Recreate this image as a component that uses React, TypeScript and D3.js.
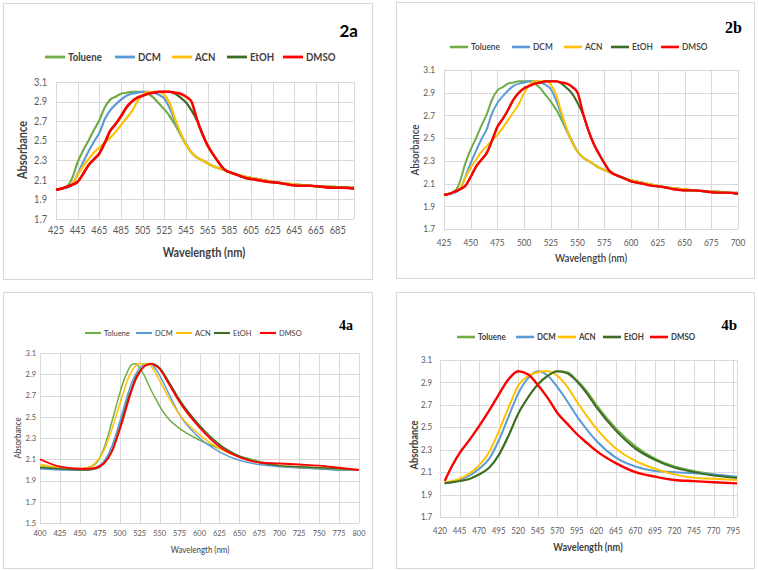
import React from 'react';
import * as d3 from 'd3';

const solvents = ['Toluene', 'DCM', 'ACN', 'EtOH', 'DMSO'];
const colors = ['#70AD47', '#5B9BD5', '#FFC000', '#3E6B26', '#FF0000'];

// dye 2 spectra (2a and 2b show the same data)
const wl2 = [425, 430, 435, 440, 445, 450, 455, 460, 465, 470, 475, 480, 485, 490, 495, 500, 505, 510, 515, 520,
  525, 530, 535, 540, 545, 550, 555, 560, 565, 570, 575, 580, 590, 600, 610, 620, 630, 640, 650, 660, 670, 680, 690, 700];
const tol2 = [2.00, 2.01, 2.03, 2.12, 2.28, 2.40, 2.50, 2.61, 2.71, 2.84, 2.92, 2.95, 2.98, 2.99, 3.00, 3.00, 3.00, 2.98, 2.94, 2.88,
  2.82, 2.75, 2.66, 2.56, 2.46, 2.38, 2.33, 2.30, 2.27, 2.24, 2.22, 2.20, 2.16, 2.13, 2.11, 2.09, 2.07, 2.06, 2.05, 2.04, 2.03, 2.03, 2.02, 2.02];
const dcm2 = [2.00, 2.01, 2.02, 2.05, 2.16, 2.28, 2.39, 2.49, 2.58, 2.72, 2.81, 2.87, 2.92, 2.96, 2.98, 2.99, 3.00, 3.00, 2.99, 2.97,
  2.93, 2.83, 2.70, 2.57, 2.47, 2.38, 2.33, 2.30, 2.27, 2.24, 2.22, 2.20, 2.16, 2.13, 2.11, 2.09, 2.07, 2.06, 2.05, 2.04, 2.03, 2.03, 2.02, 2.02];
const acn2 = [2.00, 2.01, 2.03, 2.06, 2.15, 2.24, 2.31, 2.38, 2.43, 2.48, 2.53, 2.59, 2.66, 2.73, 2.80, 2.90, 2.97, 3.00, 3.00, 3.00,
  2.97, 2.88, 2.72, 2.58, 2.46, 2.38, 2.33, 2.30, 2.27, 2.24, 2.22, 2.20, 2.16, 2.13, 2.11, 2.09, 2.07, 2.06, 2.05, 2.04, 2.03, 2.03, 2.02, 2.02];
const etoh2 = [2.00, 2.01, 2.03, 2.05, 2.08, 2.16, 2.25, 2.31, 2.37, 2.48, 2.60, 2.67, 2.75, 2.84, 2.90, 2.94, 2.96, 2.98, 2.99, 3.00,
  3.00, 3.00, 2.98, 2.94, 2.89, 2.81, 2.71, 2.57, 2.45, 2.36, 2.28, 2.21, 2.16, 2.12, 2.10, 2.08, 2.07, 2.05, 2.04, 2.04, 2.03, 2.02, 2.02, 2.01];
const dmso2 = [2.00, 2.01, 2.03, 2.05, 2.08, 2.16, 2.25, 2.31, 2.37, 2.48, 2.60, 2.67, 2.75, 2.84, 2.90, 2.94, 2.96, 2.98, 2.99, 3.00,
  3.00, 3.00, 2.99, 2.98, 2.95, 2.90, 2.72, 2.57, 2.45, 2.36, 2.28, 2.21, 2.16, 2.12, 2.10, 2.08, 2.07, 2.05, 2.04, 2.04, 2.03, 2.02, 2.02, 2.01];

// dye 4, 4a
const wl4a = [400, 425, 450, 460, 470, 480, 490, 500, 505, 510, 515, 520, 525, 530, 535, 540, 545, 550, 560, 575,
  600, 625, 650, 675, 700, 725, 750, 775, 800];
const tol4a = [2.03, 2.02, 2.01, 2.02, 2.06, 2.20, 2.45, 2.72, 2.84, 2.93, 2.99, 3.00, 2.96, 2.90, 2.82, 2.74, 2.67, 2.60, 2.49, 2.39,
  2.28, 2.20, 2.13, 2.08, 2.04, 2.02, 2.01, 2.00, 2.00];
const dcm4a = [2.01, 2.00, 2.00, 2.00, 2.02, 2.08, 2.22, 2.45, 2.58, 2.71, 2.82, 2.90, 2.96, 2.99, 3.00, 2.99, 2.95, 2.89, 2.74, 2.52,
  2.30, 2.17, 2.09, 2.05, 2.03, 2.02, 2.01, 2.00, 2.00];
const acn4a = [2.05, 2.02, 2.01, 2.02, 2.07, 2.18, 2.38, 2.62, 2.74, 2.85, 2.93, 2.98, 3.00, 3.00, 3.00, 2.97, 2.91, 2.84, 2.70, 2.52,
  2.33, 2.20, 2.12, 2.07, 2.04, 2.03, 2.02, 2.01, 2.00];
const etoh4a = [2.02, 2.01, 2.00, 2.00, 2.01, 2.06, 2.18, 2.40, 2.53, 2.66, 2.77, 2.87, 2.93, 2.97, 2.99, 3.00, 2.99, 2.96, 2.85, 2.66,
  2.42, 2.24, 2.13, 2.07, 2.04, 2.03, 2.02, 2.01, 2.00];
const dmso4a = [2.10, 2.03, 2.01, 2.01, 2.02, 2.06, 2.17, 2.38, 2.50, 2.63, 2.75, 2.85, 2.92, 2.97, 2.99, 3.00, 2.98, 2.95, 2.83, 2.64,
  2.40, 2.22, 2.12, 2.07, 2.06, 2.05, 2.04, 2.02, 2.00];

// dye 4, 4b
const wl4b = [426, 435, 445, 458, 470, 483, 495, 508, 520, 533, 545, 558, 570, 583, 595, 608, 620, 645, 670, 695,
  720, 745, 770, 800];
const tol4b = [2.00, 2.01, 2.02, 2.04, 2.08, 2.14, 2.25, 2.43, 2.62, 2.77, 2.88, 2.96, 3.00, 2.99, 2.92, 2.82, 2.70, 2.49, 2.33, 2.22,
  2.15, 2.11, 2.08, 2.05];
const dcm4b = [2.00, 2.01, 2.03, 2.07, 2.13, 2.22, 2.38, 2.60, 2.80, 2.94, 3.00, 2.96, 2.86, 2.73, 2.60, 2.48, 2.38, 2.23, 2.15, 2.11,
  2.10, 2.09, 2.08, 2.06];
const acn4b = [2.01, 2.02, 2.04, 2.09, 2.16, 2.28, 2.46, 2.68, 2.87, 2.96, 2.99, 3.00, 2.96, 2.86, 2.73, 2.60, 2.49, 2.31, 2.20, 2.13,
  2.08, 2.05, 2.04, 2.03];
const etoh4b = [2.00, 2.01, 2.02, 2.04, 2.08, 2.14, 2.25, 2.43, 2.62, 2.77, 2.88, 2.96, 3.00, 2.98, 2.91, 2.80, 2.68, 2.47, 2.31, 2.21,
  2.14, 2.10, 2.07, 2.05];
const dmso4b = [2.02, 2.15, 2.27, 2.39, 2.51, 2.65, 2.79, 2.93, 3.00, 2.97, 2.88, 2.76, 2.63, 2.53, 2.44, 2.36, 2.29, 2.18, 2.10, 2.06,
  2.03, 2.02, 2.01, 2.00];

const panels = [
  {
    name: '2a', wl: wl2, series: [tol2, dcm2, acn2, etoh2, dmso2],
    box: [3, 3, 372, 279], xr: [56, 354], yr: [82, 219], xd: [425, 700], yd: [3.1, 1.7],
    xticks: d3.range(425, 700, 20), yticks: d3.range(17, 32, 2).map(v => v / 10),
    tickSize: 10.5, xTickY: 234, yTickX: 47,
    legY: 57, legX: [45, 115, 172, 227, 283], legLen: 20, legSize: 11, legWeight: 700,
    titleSize: 12.5, titleWeight: 700, yTitle: [23, 150], xTitle: [204, 257],
    tag: [358, 37], tagFont: 'Lato, sans-serif', tagSize: 17, lw: 2.2
  },
  {
    name: '2b', wl: wl2, series: [tol2, dcm2, acn2, etoh2, dmso2],
    box: [396, 2, 754, 278], xr: [444, 738], yr: [70, 229], xd: [425, 700], yd: [3.1, 1.7],
    xticks: d3.range(425, 701, 25), yticks: d3.range(17, 32, 2).map(v => v / 10),
    tickSize: 9.5, xTickY: 246, yTickX: 435,
    legY: 47, legX: [450, 512, 564, 611, 661], legLen: 18, legSize: 9.5, legWeight: 600,
    titleSize: 11, titleWeight: 600, yTitle: [415, 150], xTitle: [591, 262],
    tag: [742, 33], tagFont: '"Liberation Serif", serif', tagSize: 16, lw: 2
  },
  {
    name: '4a', wl: wl4a, series: [tol4a, dcm4a, acn4a, etoh4a, dmso4a],
    box: [3, 292, 372, 568], xr: [40, 359], yr: [353, 523], xd: [400, 800], yd: [3.1, 1.5],
    xticks: d3.range(400, 801, 25), yticks: d3.range(15, 32, 2).map(v => v / 10),
    tickSize: 8.5, xTickY: 536, yTickX: 36,
    legY: 333, legX: [85, 136, 176, 214, 260], legLen: 16, legSize: 8.5, legWeight: 400,
    titleSize: 9, titleWeight: 400, yTitle: [18, 438], xTitle: [200, 553],
    tag: [353, 330], tagFont: '"Liberation Serif", serif', tagSize: 14, lw: 1.5
  },
  {
    name: '4b', wl: wl4b, series: [tol4b, dcm4b, acn4b, etoh4b, dmso4b],
    box: [396, 292, 754, 568], xr: [440, 737], yr: [360, 517], xd: [420, 800], yd: [3.1, 1.7],
    xticks: d3.range(420, 800, 25), yticks: d3.range(17, 32, 2).map(v => v / 10),
    tickSize: 9, xTickY: 534, yTickX: 432,
    legY: 337, legX: [457, 516, 558, 603, 650], legLen: 18, legSize: 9, legWeight: 700,
    titleSize: 10.5, titleWeight: 700, yTitle: [414, 445], xTitle: [588, 551],
    tag: [737, 330], tagFont: '"Liberation Serif", serif', tagSize: 15, lw: 2
  }
];

const FONT = 'Lato, sans-serif';
const SX = 0.88; // Calibri is narrower than Lato

function T({ x, y, anchor = 'start', size, weight = 400, fill = '#595959', dy = null, rotate = 0, children }) {
  return (
    <text transform={`translate(${x},${y}) rotate(${rotate}) scale(${SX},1)`} textAnchor={anchor} dy={dy}
      fontFamily={FONT} fontSize={size} fontWeight={weight} fill={fill}>{children}</text>
  );
}

function Panel({ p }) {
  const x = d3.scaleLinear().domain(p.xd).range(p.xr);
  const y = d3.scaleLinear().domain(p.yd).range(p.yr);
  const line = d3.line().x(d => x(d[0])).y(d => y(d[1])).curve(d3.curveMonotoneX);
  const grid = '#D9D9D9';
  const [bx0, by0, bx1, by1] = p.box;
  const vlines = p.xticks.filter(t => t >= p.xd[0] && t <= p.xd[1]).concat([p.xd[1]]);

  return (
    <g>
      <rect x={bx0 + 0.5} y={by0 + 0.5} width={bx1 - bx0} height={by1 - by0} fill="#fff" stroke={grid} />
      {p.yticks.map(t => (
        <line key={'h' + t} x1={p.xr[0]} x2={p.xr[1]} y1={Math.round(y(t)) + 0.5} y2={Math.round(y(t)) + 0.5} stroke={grid} />
      ))}
      {vlines.map((t, i) => (
        <line key={'v' + i} y1={p.yr[0]} y2={p.yr[1]} x1={Math.round(x(t)) + 0.5} x2={Math.round(x(t)) + 0.5} stroke={grid} />
      ))}
      {p.yticks.map(t => (
        <T key={'yl' + t} x={p.yTickX} y={y(t)} dy="0.35em" anchor="end" size={p.tickSize}>{t.toFixed(1)}</T>
      ))}
      {p.xticks.map(t => (
        <T key={'xl' + t} x={x(t)} y={p.xTickY} anchor="middle" size={p.tickSize}>{t}</T>
      ))}
      {p.series.map((s, i) => (
        <path key={'s' + i} d={line(p.wl.map((w, j) => [w, s[j]]))} fill="none" stroke={colors[i]}
          strokeWidth={i === 4 ? p.lw + 0.4 : p.lw} strokeLinejoin="round" />
      ))}
      {solvents.map((s, i) => (
        <g key={'lg' + s}>
          <line x1={p.legX[i]} x2={p.legX[i] + p.legLen} y1={p.legY} y2={p.legY} stroke={colors[i]} strokeWidth={p.lw + 0.6} />
          <T x={p.legX[i] + p.legLen + 3} y={p.legY} dy="0.35em" size={p.legSize} weight={p.legWeight} fill="#404040">{s}</T>
        </g>
      ))}
      <T x={p.yTitle[0]} y={p.yTitle[1]} rotate={-90} anchor="middle" dy="0.35em" size={p.titleSize}
        weight={p.titleWeight} fill="#404040">Absorbance</T>
      <T x={p.xTitle[0]} y={p.xTitle[1]} anchor="middle" size={p.titleSize} weight={p.titleWeight} fill="#404040">
        Wavelength (nm)
      </T>
      <text x={p.tag[0]} y={p.tag[1]} textAnchor="end" fontFamily={p.tagFont} fontSize={p.tagSize} fontWeight={700} fill="#000">
        {p.name}
      </text>
    </g>
  );
}

export default function App() {
  return (
    <div style={{ position: 'absolute', left: 0, top: 0 }}>
      <svg width={758} height={570} style={{ display: 'block', background: '#fff' }}>
        {panels.map(p => <Panel key={p.name} p={p} />)}
      </svg>
    </div>
  );
}
